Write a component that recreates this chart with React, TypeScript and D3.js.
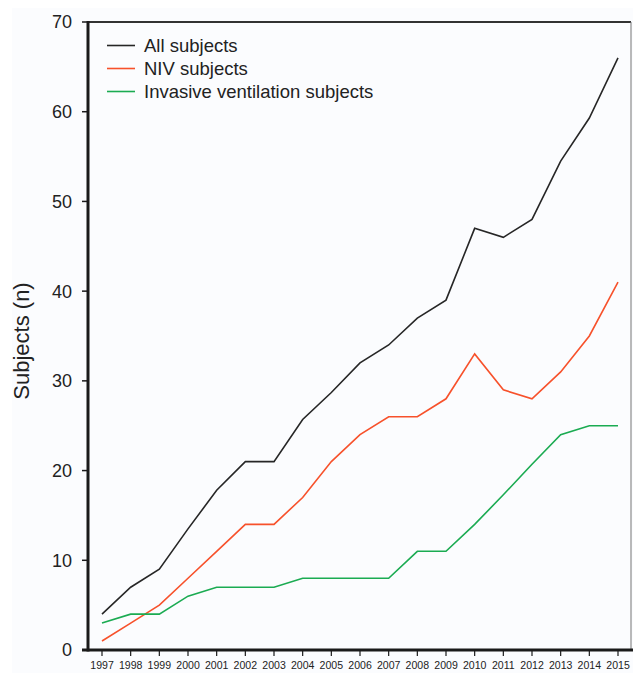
import React from 'react';
import * as d3 from 'd3';

const years = ['1997', '1998', '1999', '2000', '2001', '2002', '2003', '2004', '2005', '2006',
  '2007', '2008', '2009', '2010', '2011', '2012', '2013', '2014', '2015'];
const allSubjects = [4, 7, 9, 13.5, 17.8, 21, 21, 25.7, 28.7, 32, 34, 37, 39, 47, 46, 48, 54.5, 59.3, 66];
const nivSubjects = [1, 3, 5, 8, 11, 14, 14, 17, 21, 24, 26, 26, 28, 33, 29, 28, 31, 35, 41];
const invasiveSubjects = [3, 4, 4, 6, 7, 7, 7, 8, 8, 8, 8, 11, 11, 14, 17.3, 20.7, 24, 25, 25];
const yTicks = [0, 10, 20, 30, 40, 50, 60, 70];

const series = [
  {name: 'All subjects', values: allSubjects, color: '#262626'},
  {name: 'NIV subjects', values: nivSubjects, color: '#f7512b'},
  {name: 'Invasive ventilation subjects', values: invasiveSubjects, color: '#1bab52'},
];

export default function App() {
  const W = 633, H = 673;
  const left = 88, right = 631, top = 22, bottom = 650;

  const x = d3.scalePoint<string>().domain(years).range([102, 618]);
  const y = d3.scaleLinear().domain([0, 70]).range([bottom, top]);

  const line = d3.line<number>()
    .x((d, i) => x(years[i]) as number)
    .y(d => y(d));

  return (
    <svg width={W} height={H} style={{position: 'absolute', left: 0, top: 0, display: 'block'}}
         fontFamily="'Liberation Sans', Arial, sans-serif">
      <rect x={0} y={0} width={W} height={H} fill="#ffffff" />
      <rect x={12} y={8} width={W - 12} height={H - 8} fill="#fbfcfe" />

      {/* frame */}
      <line x1={left} x2={right} y1={top} y2={top} stroke="#333" strokeWidth={2} />
      <line x1={right} x2={right} y1={top} y2={bottom} stroke="#777" strokeWidth={1} />

      {/* series */}
      {series.map(s => (
        <path key={s.name} d={line(s.values) || ''} fill="none" stroke={s.color} strokeWidth={1.6}
              strokeLinejoin="miter" />
      ))}

      {/* y axis */}
      <line x1={left} x2={left} y1={top - 1} y2={bottom + 1.5} stroke="#1a1a1a" strokeWidth={3} />
      {yTicks.map(t => (
        <g key={t} transform={`translate(0,${y(t)})`}>
          <line x1={left - 6} x2={left} stroke="#1a1a1a" strokeWidth={1.5} />
          <text x={72} dy="0.36em" textAnchor="end" fontSize={18} fill="#222">{t}</text>
        </g>
      ))}
      <text transform={`translate(29,341) rotate(-90)`} textAnchor="middle" fontSize={22} fill="#222">
        Subjects (n)
      </text>

      {/* x axis */}
      <line x1={82} x2={W} y1={bottom} y2={bottom} stroke="#1a1a1a" strokeWidth={3} />
      {years.map(yr => (
        <g key={yr} transform={`translate(${x(yr)},0)`}>
          <line y1={bottom} y2={bottom + 6} stroke="#1a1a1a" strokeWidth={1.2} />
          <text y={669} textAnchor="middle" fontSize={11.5} fill="#222"
                transform="scale(0.92,1)" style={{transformBox: 'fill-box', transformOrigin: 'center'}}>{yr}</text>
        </g>
      ))}

      {/* legend */}
      {series.map((s, i) => (
        <g key={s.name} transform={`translate(0,${45.5 + i * 23})`}>
          <line x1={107} x2={135} stroke={s.color} strokeWidth={1.6} />
          <text x={144} dy="0.35em" fontSize={18.5} fill="#222">{s.name}</text>
        </g>
      ))}
    </svg>
  );
}
